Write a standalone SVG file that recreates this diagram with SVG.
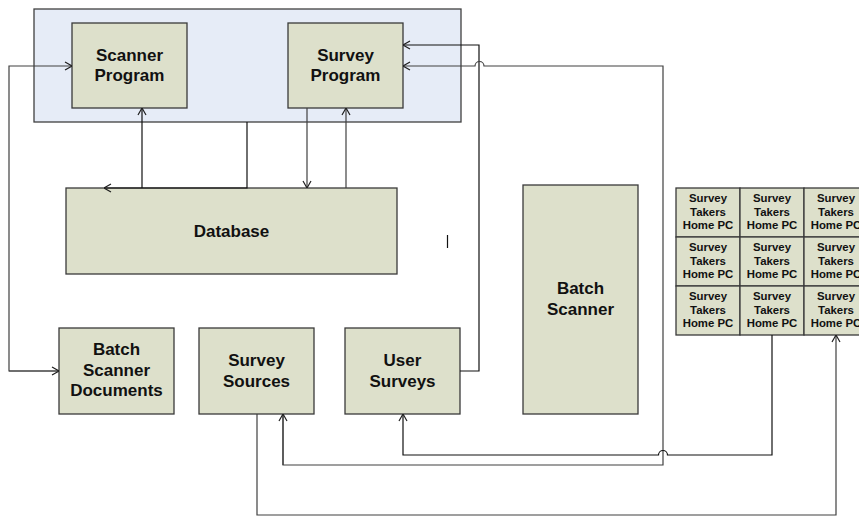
<svg xmlns="http://www.w3.org/2000/svg" width="859" height="516" viewBox="0 0 859 516">
  <defs>
    <marker id="arr" viewBox="0 0 10 10" refX="10" refY="5" markerWidth="10" markerHeight="10" markerUnits="userSpaceOnUse" orient="auto">
      <path d="M3,1 L10,5 L3,9" fill="none" stroke="#202020" stroke-width="1.2"/>
    </marker>
  </defs>
  <style>
    .box { fill: #DDE0CB; stroke: #3a3a3a; stroke-width: 1.3; }
    .grp { fill: #E6ECF7; stroke: #404040; stroke-width: 1.3; }
    .t { font-family: "Liberation Sans", Arial, sans-serif; font-weight: bold; font-size: 17px; fill: #111; text-anchor: middle; }
    .s { font-family: "Liberation Sans", Arial, sans-serif; font-weight: bold; font-size: 11.4px; fill: #111; text-anchor: middle; }
    .c { fill: none; stroke: #404040; stroke-width: 1.2; }
    .k { fill: none; stroke: #111; stroke-width: 1.2; }
  </style>
  <rect width="859" height="516" fill="#fff"/>

  <g id="programs">
    <rect class="grp" x="34" y="9" width="427" height="113"/>
  </g>

  <g id="scanner-program">
    <rect class="box" x="72" y="23" width="115" height="85"/>
    <text class="t" x="129.5" y="61">Scanner</text>
    <text class="t" x="129.5" y="81">Program</text>
  </g>

  <g id="survey-program">
    <rect class="box" x="288" y="23" width="115" height="85"/>
    <text class="t" x="345.5" y="61">Survey</text>
    <text class="t" x="345.5" y="81">Program</text>
  </g>

  <g id="database">
    <rect class="box" x="66" y="188" width="331" height="86"/>
    <text class="t" x="231.5" y="237">Database</text>
  </g>

  <g id="batch-scanner-documents">
    <rect class="box" x="59" y="328" width="115" height="86"/>
    <text class="t" x="116.5" y="355">Batch</text>
    <text class="t" x="116.5" y="375.5">Scanner</text>
    <text class="t" x="116.5" y="396">Documents</text>
  </g>

  <g id="survey-sources">
    <rect class="box" x="199" y="328" width="115" height="86"/>
    <text class="t" x="256.5" y="366">Survey</text>
    <text class="t" x="256.5" y="386.5">Sources</text>
  </g>

  <g id="user-surveys">
    <rect class="box" x="345" y="328" width="115" height="86"/>
    <text class="t" x="402.5" y="366">User</text>
    <text class="t" x="402.5" y="386.5">Surveys</text>
  </g>

  <g id="batch-scanner">
    <rect class="box" x="523" y="185" width="115" height="229"/>
    <text class="t" x="580.5" y="294">Batch</text>
    <text class="t" x="580.5" y="315">Scanner</text>
  </g>

  <g id="home-pcs">
    <g id="pc-1-1"><rect class="box" x="676" y="188" width="64" height="49"/><text class="s" x="708" y="202">Survey</text><text class="s" x="708" y="215.5">Takers</text><text class="s" x="708" y="229">Home PC</text></g>
    <g id="pc-1-2"><rect class="box" x="740" y="188" width="64" height="49"/><text class="s" x="772" y="202">Survey</text><text class="s" x="772" y="215.5">Takers</text><text class="s" x="772" y="229">Home PC</text></g>
    <g id="pc-1-3"><rect class="box" x="804" y="188" width="64" height="49"/><text class="s" x="836" y="202">Survey</text><text class="s" x="836" y="215.5">Takers</text><text class="s" x="836" y="229">Home PC</text></g>
    <g id="pc-2-1"><rect class="box" x="676" y="237" width="64" height="49"/><text class="s" x="708" y="251">Survey</text><text class="s" x="708" y="264.5">Takers</text><text class="s" x="708" y="278">Home PC</text></g>
    <g id="pc-2-2"><rect class="box" x="740" y="237" width="64" height="49"/><text class="s" x="772" y="251">Survey</text><text class="s" x="772" y="264.5">Takers</text><text class="s" x="772" y="278">Home PC</text></g>
    <g id="pc-2-3"><rect class="box" x="804" y="237" width="64" height="49"/><text class="s" x="836" y="251">Survey</text><text class="s" x="836" y="264.5">Takers</text><text class="s" x="836" y="278">Home PC</text></g>
    <g id="pc-3-1"><rect class="box" x="676" y="286" width="64" height="49"/><text class="s" x="708" y="300">Survey</text><text class="s" x="708" y="313.5">Takers</text><text class="s" x="708" y="327">Home PC</text></g>
    <g id="pc-3-2"><rect class="box" x="740" y="286" width="64" height="49"/><text class="s" x="772" y="300">Survey</text><text class="s" x="772" y="313.5">Takers</text><text class="s" x="772" y="327">Home PC</text></g>
    <g id="pc-3-3"><rect class="box" x="804" y="286" width="64" height="49"/><text class="s" x="836" y="300">Survey</text><text class="s" x="836" y="313.5">Takers</text><text class="s" x="836" y="327">Home PC</text></g>
  </g>

  <g id="connectors">
    <!-- loop from batch documents back into the scanner program -->
    <path class="c" d="M59,371 H9 V66 H72" marker-end="url(#arr)"/>
    <path class="c" d="M9,371 H59" marker-end="url(#arr)"/>
    <!-- database links -->
    <path class="k" d="M142,188 V108" marker-end="url(#arr)"/>
    <path class="k" d="M247,122 V188 H104" marker-end="url(#arr)"/>
    <path class="c" d="M307,108 V188" marker-end="url(#arr)"/>
    <path class="c" d="M346,188 V108" marker-end="url(#arr)"/>
    <!-- user surveys to survey program -->
    <path class="k" d="M460,371 H479 V45 H403" marker-end="url(#arr)"/>
    <!-- survey program to survey sources, hopping over x=479 -->
    <path class="c" d="M283,414 V465 H663 V66 H484 A4.5,4.5 0 0 0 475,66 H403" marker-end="url(#arr)"/>
    <path class="c" d="M283,465 V414" marker-end="url(#arr)"/>
    <!-- home pcs to user surveys, hopping over x=663 -->
    <path class="k" d="M772,335 V455 H667.5 A4.5,4.5 0 0 0 658.5,455 H403 V414" marker-end="url(#arr)"/>
    <!-- survey sources out to home pcs -->
    <path class="c" d="M257,414 V515 H836 V335" marker-end="url(#arr)"/>
    <!-- stray mark -->
    <path class="k" d="M447.5,235 V248" stroke-width="1.5"/>
  </g>
</svg>
